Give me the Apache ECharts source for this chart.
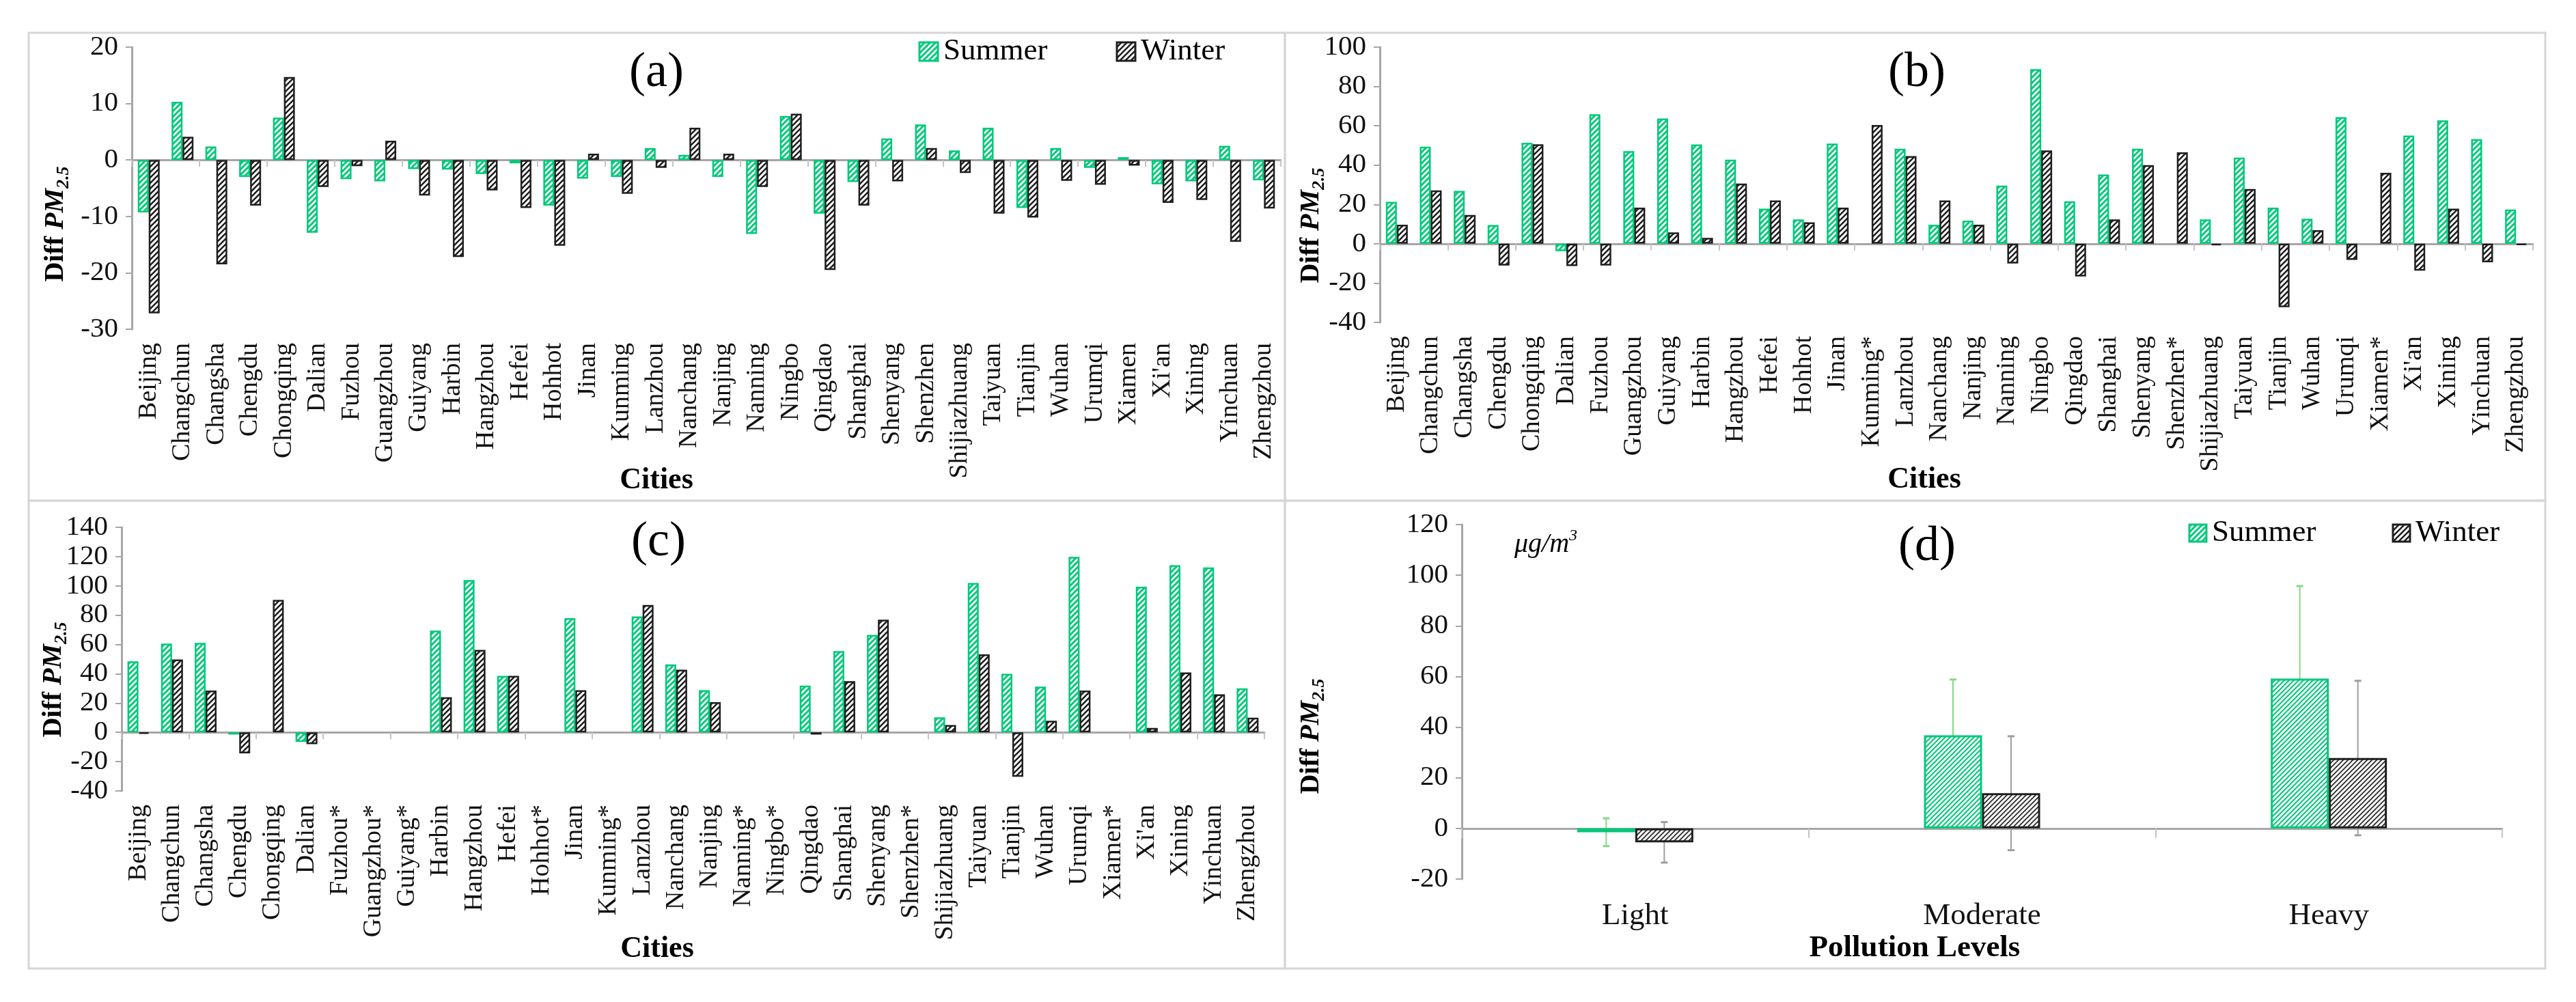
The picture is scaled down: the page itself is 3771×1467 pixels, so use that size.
<!DOCTYPE html>
<html>
<head>
<meta charset="utf-8">
<script src="https://cdn.jsdelivr.net/npm/echarts@6/dist/echarts.min.js"></script>
<style>html,body{margin:0;padding:0;background:#fff}#c{width:3771px;height:1467px}</style>
</head>
<body>
<div id="c"></div>
<script>
// ---------- data ----------
const citiesA = ['Beijing','Changchun','Changsha','Chengdu','Chongqing','Dalian','Fuzhou','Guangzhou','Guiyang','Harbin','Hangzhou','Hefei','Hohhot','Jinan','Kunming','Lanzhou','Nanchang','Nanjing','Nanning','Ningbo','Qingdao','Shanghai','Shenyang','Shenzhen','Shijiazhuang','Taiyuan','Tianjin','Wuhan','Urumqi','Xiamen',"Xi'an",'Xining','Yinchuan','Zhengzhou'];
const summerA = [-9.3,10.3,2.4,-3.0,7.5,-12.9,-3.4,-3.8,-1.6,-1.7,-2.5,-0.6,-8.1,-3.3,-3.0,2.1,0.9,-3.0,-13.1,7.8,-9.5,-3.9,3.8,6.3,1.7,5.7,-8.5,2.1,-1.4,0.5,-4.3,-3.8,2.5,-3.6];
const winterA = [-27.2,4.1,-18.5,-8.1,14.7,-4.8,-1.1,3.4,-6.3,-17.2,-5.4,-8.5,-15.2,1.1,-6.0,-1.4,5.7,1.1,-4.8,8.2,-19.5,-8.1,-3.8,2.1,-2.3,-9.5,-10.2,-3.7,-4.4,-1.0,-7.6,-7.1,-14.5,-8.6];

const citiesB = ['Beijing','Changchun','Changsha','Chengdu','Chongqing','Dalian','Fuzhou','Guangzhou','Guiyang','Harbin','Hangzhou','Hefei','Hohhot','Jinan','Kunming*','Lanzhou','Nanchang','Nanjing','Nanning','Ningbo','Qingdao','Shanghai','Shenyang','Shenzhen*','Shijiazhuang','Taiyuan','Tianjin','Wuhan','Urumqi','Xiamen*',"Xi'an",'Xining','Yinchuan','Zhengzhou'];
const summerB = [21.3,49.4,26.9,9.5,51.4,-3.8,65.9,47.1,63.7,50.5,42.8,17.8,12.4,50.9,null,48.3,9.7,11.8,29.6,88.8,21.6,35.2,48.3,null,12.4,43.8,18.4,12.7,64.4,null,55.0,62.7,53.2,17.4];
const winterB = [9.7,27.1,14.6,-11.1,50.6,-11.3,-11.1,18.4,5.8,3.0,30.6,22.0,10.9,18.4,60.4,44.6,22.0,9.7,-10.0,47.5,-16.6,12.4,40.0,46.5,-0.8,27.8,-32.3,6.9,-8.2,36.1,-13.7,17.8,-9.4,-0.6];

const citiesC = ['Beijing','Changchun','Changsha','Chengdu','Chongqing','Dalian','Fuzhou*','Guangzhou*','Guiyang*','Harbin','Hangzhou','Hefei','Hohhot*','Jinan','Kunming*','Lanzhou','Nanchang','Nanjing','Nanning*','Ningbo*','Qingdao','Shanghai','Shenyang','Shenzhen*','Shijiazhuang','Taiyuan','Tianjin','Wuhan','Urumqi','Xiamen*',"Xi'an",'Xining','Yinchuan','Zhengzhou'];
const summerC = [48.5,60.6,61.1,-1.5,null,-6.5,null,null,null,69.5,104.0,38.6,null,78.0,null,79.2,46.4,28.8,null,null,31.9,55.5,66.5,null,10.3,102.0,40.0,31.2,119.8,null,99.4,114.1,112.6,30.1];
const winterC = [-1.0,49.8,28.5,-14.3,90.4,-8.1,null,null,null,24.0,56.3,38.6,null,28.8,null,87.0,42.8,20.6,null,null,-1.5,35.0,76.9,null,5.0,53.3,-30.3,7.9,28.5,null,3.0,40.9,26.0,10.0];

const levels = ['Light','Moderate','Heavy'];
const summerD = [-1.5,36.8,59.2];
const winterD = [-5.5,13.9,27.8];
const summerDErr = [5.5,22.0,36.5];
const winterDErr = [8.0,22.5,30.5];

const yTicksA = {min:-30,max:20,interval:10};
const yTicksB = {min:-40,max:100,interval:20};
const yTicksC = {min:-40,max:140,interval:20};
const yTicksD = {min:-20,max:120,interval:20};

// ---------- styles ----------
const F = "'Liberation Serif','Times New Roman',serif";
const GREEN = '#00C87A';
const BLACK = '#1e1e1e';
const AXIS = '#a6a6a6';

function hatch(color, size, lw) {
  const c = document.createElement('canvas');
  c.width = size; c.height = size;
  const g = c.getContext('2d');
  g.fillStyle = '#ffffff'; g.fillRect(0,0,size,size);
  g.strokeStyle = color; g.lineWidth = lw; g.lineCap = 'square';
  g.beginPath();
  g.moveTo(0,size); g.lineTo(size,0);
  g.moveTo(-size/2,size/2); g.lineTo(size/2,-size/2);
  g.moveTo(size/2,size*1.5); g.lineTo(size*1.5,size/2);
  g.stroke();
  return {image:c, repeat:'repeat'};
}
const patS = hatch(GREEN, 8, 3);
const patW = hatch(BLACK, 8, 2.6);
const patSD = hatch(GREEN, 7, 2);
const patWD = hatch('#2a2a2a', 7, 1.8);

const grids = [
  {left:193, top:69, width:1682, height:413},
  {left:2020, top:69, width:1688, height:403},
  {left:178, top:772, width:1673, height:386},
  {left:2140, top:768, width:1523, height:519}
];
const cats = [citiesA, citiesB, citiesC, levels];
const yT = [yTicksA, yTicksB, yTicksC, yTicksD];

const xAxis = [], yAxis = [];
for (let k = 0; k < 4; k++) {
  const isD = k === 3;
  xAxis.push({
    type:'category', gridIndex:k, data:cats[k], position:'bottom',
    axisLine:{show:false, onZero:false}, axisTick:{show:false},
    axisLabel: isD
      ? {interval:0, fontFamily:F, fontSize:45, color:'#111', margin:32}
      : {interval:0, rotate:90, fontFamily:F, fontSize:38, color:'#111', margin:20}
  });
  xAxis.push({
    type:'category', gridIndex:k, data:cats[k], position:'top',
    axisLine:{show:true, onZero:true, lineStyle:{color:AXIS, width:3}},
    axisTick:{show:true, inside:true, length:isD?14:10, lineStyle:{color:'#c4c4c4', width:2}},
    axisLabel:{show:false}, splitLine:{show:false}
  });
  yAxis.push({
    type:'value', gridIndex:k, min:yT[k].min, max:yT[k].max, interval:yT[k].interval,
    axisLine:{show:true, lineStyle:{color:AXIS, width:3}},
    axisTick:{show:true, length:9, lineStyle:{color:AXIS, width:2}},
    splitLine:{show:false},
    axisLabel:{fontFamily:F, fontSize:41, color:'#111', margin:20}
  });
}

function barSeries(k, data, pat, border, bw, z) {
  return {
    type:'bar', xAxisIndex:2*k, yAxisIndex:k, data:data, barWidth:bw, barGap:'0%',
    itemStyle:{color:pat, borderColor:border, borderWidth: bw > 40 ? 3 : 2.5},
    emphasis:{disabled:true}, z:z, animation:false
  };
}
function errSeries(vals, errs, offset, color) {
  return {
    type:'custom', xAxisIndex:6, yAxisIndex:3, z:1, animation:false,
    data: vals.map((v,i) => [i, v - errs[i], v + errs[i]]),
    encode:{x:0, y:[1,2]},
    renderItem: function(params, api) {
      const i = api.value(0);
      const top = api.coord([i, api.value(2)]);
      const bot = api.coord([i, api.value(1)]);
      const x = top[0] + offset;
      return {type:'group', children:[
        {type:'line', shape:{x1:x,y1:top[1],x2:x,y2:bot[1]}, style:{stroke:color, lineWidth:2}},
        {type:'line', shape:{x1:x-5,y1:top[1],x2:x+5,y2:top[1]}, style:{stroke:color, lineWidth:3}},
        {type:'line', shape:{x1:x-5,y1:bot[1],x2:x+5,y2:bot[1]}, style:{stroke:color, lineWidth:3}}
      ]};
    }
  };
}

const series = [
  barSeries(0, summerA, patS, GREEN, 16, 2),
  barSeries(0, winterA, patW, BLACK, 16, 2),
  barSeries(1, summerB, patS, GREEN, 16, 2),
  barSeries(1, winterB, patW, BLACK, 16, 2),
  barSeries(2, summerC, patS, GREEN, 16, 2),
  barSeries(2, winterC, patW, BLACK, 16, 2),
  barSeries(3, summerD, patSD, GREEN, 85, 3),
  barSeries(3, winterD, patWD, BLACK, 85, 3),
  errSeries(summerD, summerDErr, -42.5, '#86d886'),
  errSeries(winterD, winterDErr, 42.5, '#9e9e9e')
];

function txt(x, y, text, size, opt) {
  return {type:'text', x:x, y:y, z:100, silent:true, style:Object.assign({
    text:text, fontFamily:F, fontSize:size, fill:'#000', align:'center', verticalAlign:'middle'
  }, opt || {})};
}
function yTitle(x, y) {
  return {type:'text', x:x, y:y, rotation:Math.PI/2, z:100, silent:true, style:{
    text:'{a|Diff }{b|PM}{c|2.5}', align:'center', verticalAlign:'middle', fill:'#000',
    rich:{
      a:{fontFamily:F, fontWeight:'bold', fontSize:40, lineHeight:44, verticalAlign:'top', fill:'#000'},
      b:{fontFamily:F, fontWeight:'bold', fontStyle:'italic', fontSize:40, lineHeight:44, verticalAlign:'top', fill:'#000'},
      c:{fontFamily:F, fontWeight:'bold', fontStyle:'italic', fontSize:26, lineHeight:26, padding:[20,0,0,0], verticalAlign:'bottom', fill:'#000'}
    }
  }};
}
function frame(x, y, w, h) {
  return {type:'rect', z:0, silent:true, shape:{x:x,y:y,width:w,height:h}, style:{fill:null, stroke:'#d6d6d6', lineWidth:3}};
}
function legendItem(x, y, s, pat, border, label, fs) {
  return [
    {type:'rect', z:100, silent:true, shape:{x:x,y:y,width:s,height:s}, style:{fill:pat, stroke:border, lineWidth:3}},
    txt(x + s + 8, y + s/2, label, fs, {align:'left'})
  ];
}

const graphic = [
  frame(42,48,1839,685), frame(1881,48,1845,685), frame(42,733,1839,685), frame(1881,733,1845,685),
  txt(961,107,'(a)',72), txt(2806,107,'(b)',72), txt(964,794,'(c)',72), txt(2821,801,'(d)',72),
  txt(961,704,'Cities',44,{fontWeight:'bold'}),
  txt(2817,703,'Cities',44,{fontWeight:'bold'}),
  txt(962,1390,'Cities',44,{fontWeight:'bold'}),
  txt(2803,1388,'Pollution Levels',45,{fontWeight:'bold'}),
  yTitle(84,328), yTitle(1922,330), yTitle(81,995), yTitle(1922,1078),
  {type:'text', x:2217, y:795, z:100, silent:true, style:{
    text:'{a|μg/m}{s|3}', align:'left', verticalAlign:'middle',
    rich:{a:{fontFamily:F, fontStyle:'italic', fontSize:40, lineHeight:44, verticalAlign:'bottom', fill:'#000'},
          s:{fontFamily:F, fontStyle:'italic', fontSize:24, lineHeight:24, verticalAlign:'top', fill:'#000'}}
  }}
].concat(
  legendItem(1346,62,27,patS,GREEN,'Summer',45),
  legendItem(1635,62,27,patW,BLACK,'Winter',45),
  legendItem(3205,768,25,patS,GREEN,'Summer',45),
  legendItem(3503,768,25,patW,BLACK,'Winter',45)
);

const chart = echarts.init(document.getElementById('c'), null, {renderer:'canvas', width:3771, height:1467});
chart.setOption({
  backgroundColor:'#ffffff',
  animation:false,
  grid: grids,
  xAxis: xAxis,
  yAxis: yAxis,
  series: series,
  graphic: graphic
});
</script>
</body>
</html>
